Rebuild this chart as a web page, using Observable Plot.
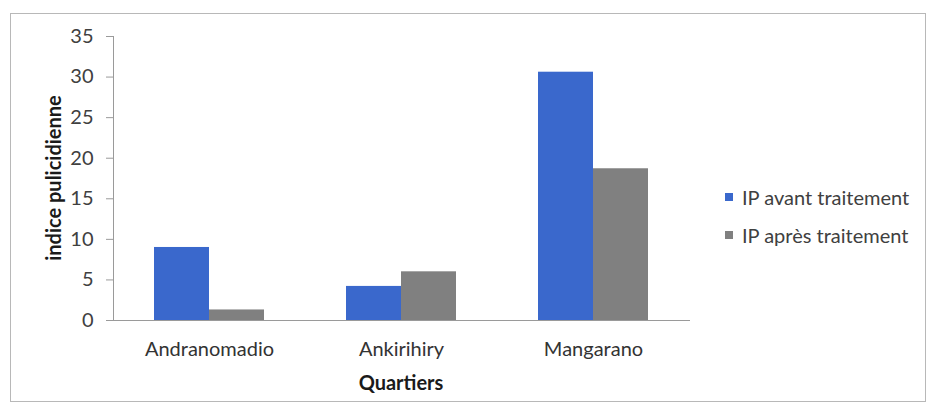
<!DOCTYPE html>
<html>
<head>
<meta charset="utf-8">
<script src="https://cdn.jsdelivr.net/npm/d3@7"></script>
<script src="https://cdn.jsdelivr.net/npm/@observablehq/plot@0.6"></script>
<style>
  html, body { margin: 0; padding: 0; background: #fff; }
  #wrap { position: relative; width: 929px; height: 412px; overflow: hidden; font-family: Lato, "Open Sans", sans-serif; color: #404040; }
  #border { position: absolute; left: 10px; top: 13px; width: 916px; height: 389px; border: 1px solid #b8b8b8; box-sizing: border-box; }
  #chart { position: absolute; left: 0; top: 0; }
  .legend { position: absolute; left: 725px; font-size: 20px; color: #404040; }
  .legend .row { position: absolute; white-space: nowrap; display: flex; align-items: center; height: 24px; }
  .legend .sw { width: 8px; height: 8px; margin-right: 9px; }
  #ytitle { position: absolute; left: 53px; top: 178px; transform: translate(-50%, -50%) rotate(-90deg); font-weight: bold; font-size: 20px; color: #1a1a1a; white-space: nowrap; }
  #xtitle { position: absolute; left: 401px; top: 382px; transform: translate(-50%, -50%); font-weight: bold; font-size: 20px; color: #1a1a1a; white-space: nowrap; }
</style>
</head>
<body>
<div id="wrap">
  <div id="border"></div>
  <div id="chart"></div>
  <div id="ytitle"></div>
  <div id="xtitle"></div>
  <div class="legend" id="legend"></div>
</div>
<script>
const quartiers = ["Andranomadio", "Ankirihiry", "Mangarano"];
const series = ["IP avant traitement", "IP après traitement"];
const avant = [9.0, 4.2, 30.6];
const apres = [1.3, 6.0, 18.7];
const colors = ["#3a68cc", "#808080"];
const yTicks = [0, 5, 10, 15, 20, 25, 30, 35];
const yTitle = "indice pulicidienne";
const xTitle = "Quartiers";

const data = [];
quartiers.forEach((q, i) => {
  data.push({quartier: q, serie: series[0], value: avant[i]});
  data.push({quartier: q, serie: series[1], value: apres[i]});
});

const chart = Plot.plot({
  width: 929,
  height: 412,
  marginLeft: 113,
  marginRight: 240,
  marginTop: 36,
  marginBottom: 92,
  style: {fontFamily: "Lato, 'Open Sans', sans-serif", fontSize: "20px", color: "#404040", background: "transparent", overflow: "visible"},
  fx: {domain: quartiers, paddingInner: 0, paddingOuter: 0, label: null},
  x: {domain: series, paddingInner: 0, paddingOuter: 0.745, axis: null},
  y: {domain: [0, 35], label: null},
  color: {domain: series, range: colors},
  marks: [
    Plot.barY(data, {fx: "quartier", x: "serie", y: "value", fill: "serie"}),
    Plot.axisY({ticks: yTicks, tickSize: 7, tickPadding: 13, stroke: "#9a9a9a", fill: "#404040", label: null}),
    Plot.axisFx({anchor: "bottom", tickSize: 0, tickPadding: 21, fill: "#333", label: null}),
    Plot.frame({anchor: "bottom", stroke: "#9a9a9a", facet: "super"}),
    Plot.frame({anchor: "left", stroke: "#9a9a9a", facet: "super"})
  ]
});
document.getElementById("chart").appendChild(chart);
document.getElementById("ytitle").textContent = yTitle;
document.getElementById("xtitle").textContent = xTitle;

const legend = document.getElementById("legend");
const rowTops = [185, 223];
series.forEach((s, i) => {
  const row = document.createElement("div");
  row.className = "row";
  row.style.top = rowTops[i] + "px";
  const sw = document.createElement("span");
  sw.className = "sw";
  sw.style.background = colors[i];
  const t = document.createElement("span");
  t.textContent = s;
  row.appendChild(sw);
  row.appendChild(t);
  legend.appendChild(row);
});
</script>
</body>
</html>
